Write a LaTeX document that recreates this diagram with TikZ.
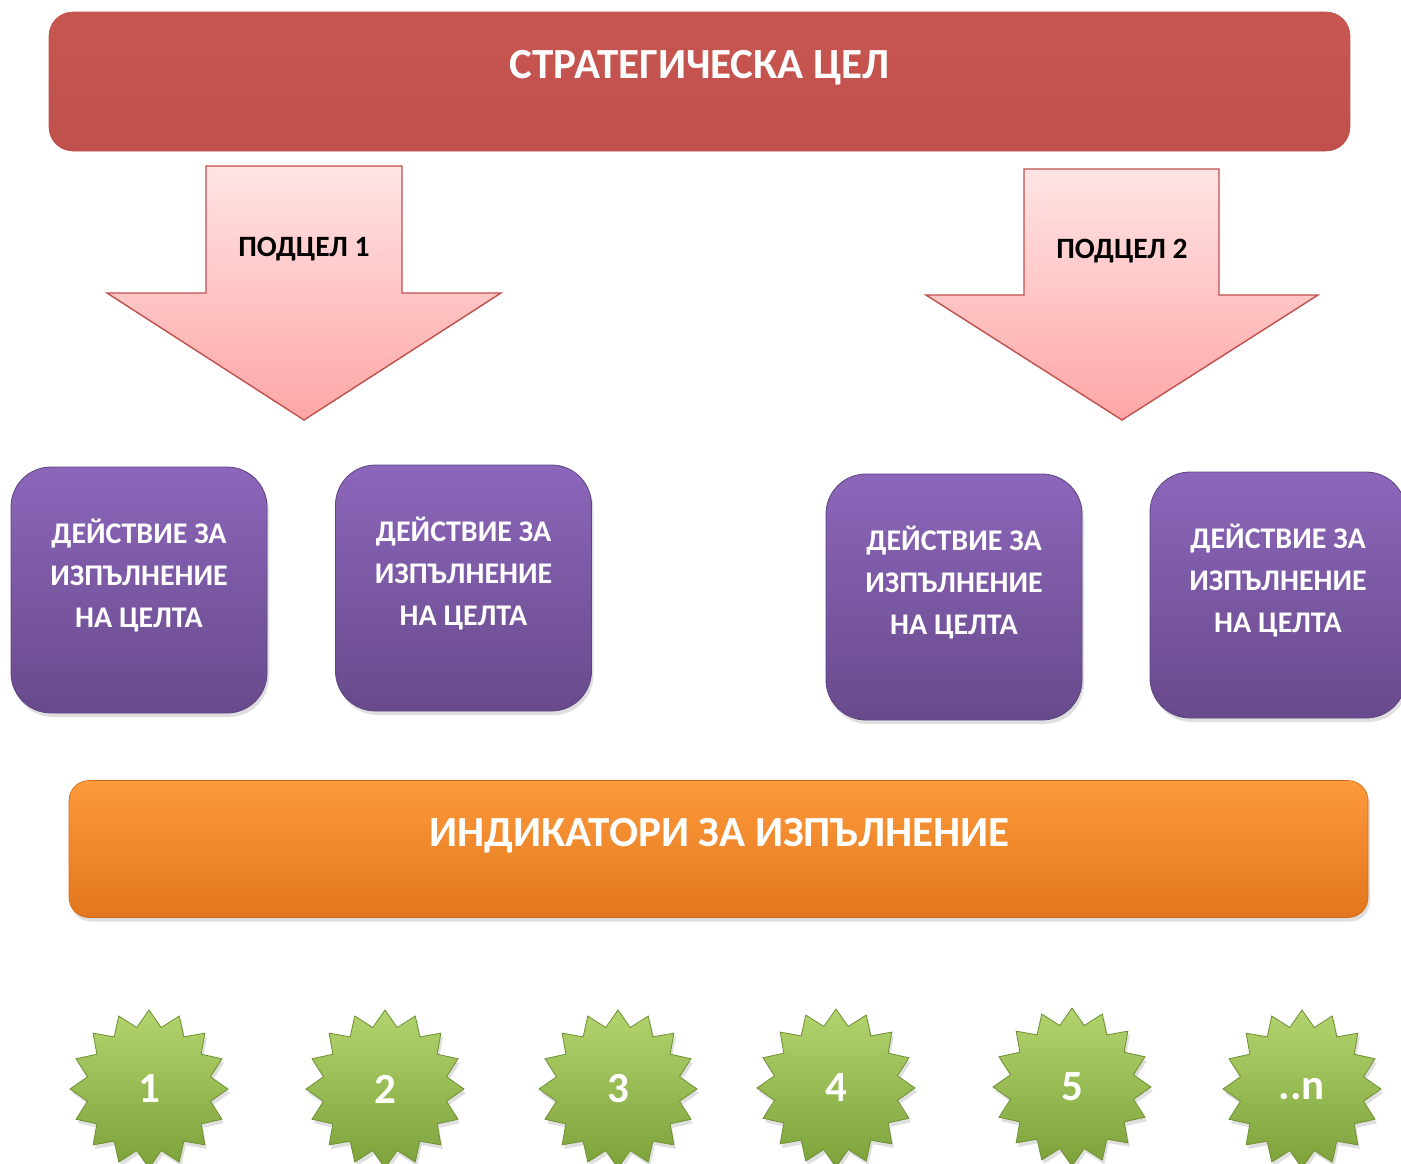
\documentclass[tikz,border=0pt]{standalone}
\usepackage{fontspec}
\setmainfont{Carlito}
\usetikzlibrary{shapes.geometric,shadows}
\definecolor{redbar}{HTML}{C0504D}
\definecolor{redbarTop}{HTML}{C85650}
\definecolor{arrTop}{HTML}{FFE4E4}
\definecolor{arrBot}{HTML}{FFA6A6}
\definecolor{arrLine}{HTML}{C0504D}
\definecolor{purTop}{HTML}{8C66BA}
\definecolor{purBot}{HTML}{684A8C}
\definecolor{purLine}{HTML}{5C4480}
\definecolor{orTop}{HTML}{FD9A3A}
\definecolor{orBot}{HTML}{E2761E}
\definecolor{orLine}{HTML}{D06A1A}
\definecolor{grTop}{HTML}{B2D46E}
\definecolor{grBot}{HTML}{7DA23A}
\definecolor{grLine}{HTML}{6E8F32}
\tikzset{
  softshadow/.style={drop shadow={opacity=0.25, shadow xshift=2pt, shadow yshift=-4pt}},
  redbox/.style={rectangle, rounded corners=24pt, minimum width=1301pt, minimum height=139pt,
    top color=redbarTop, bottom color=redbar, draw=redbar, line width=0.6pt},
  purbox/.style={rectangle, rounded corners=40pt, minimum width=256pt, minimum height=246pt,
    top color=purTop, bottom color=purBot, draw=purLine, line width=0.8pt, softshadow},
  orbox/.style={rectangle, rounded corners=20pt, minimum width=1299pt, minimum height=137pt,
    top color=orTop, bottom color=orBot, draw=orLine, line width=0.6pt, softshadow},
  downarrow/.style={top color=arrTop, bottom color=arrBot, draw=arrLine, line width=1.4pt, line join=miter},
  startxt/.style={star, star points=16, star point ratio=1.26, minimum size=158pt, inner sep=0pt,
    top color=grTop, bottom color=grBot, draw=grLine, line width=0.8pt, softshadow,
    text=white, font=\bfseries\fontsize{43}{46}\selectfont},
  whitetxt/.style={text=white, font=\bfseries\fontsize{30}{42}\selectfont, align=center},
  titletxt/.style={text=white, font=\bfseries\fontsize{43}{46}\selectfont},
  subtxt/.style={text=black, font=\bfseries\fontsize{29.5}{32}\selectfont},
}
\begin{document}
\begin{tikzpicture}[x=1pt,y=-1pt]
\useasboundingbox (0,0) rectangle (1401,1163);
\clip (0,0) rectangle (1401,1163);
\fill[white] (0,0) rectangle (1401,1163);

% strategic goal
\node[redbox] (goal) at (699.5,81.5) {};
\node[titletxt] (goaltxt) at (699.5,68) {СТРАТЕГИЧЕСКА ЦЕЛ};

% sub-goal arrows
\draw[downarrow] (206,166) -- (402,166) -- (402,293) -- (501,293) -- (304,420) -- (107,293) -- (206,293) -- cycle;
\node[subtxt] (sub1) at (304,249) {ПОДЦЕЛ 1};
\draw[downarrow] (1024,169) -- (1219,169) -- (1219,295) -- (1318,295) -- (1122,420) -- (926,295) -- (1024,295) -- cycle;
\node[subtxt] (sub2) at (1122,251) {ПОДЦЕЛ 2};

% actions
\node[purbox] (b1) at (139,590) {};
\node[whitetxt] (t1) at (139,576) {ДЕЙСТВИЕ ЗА\\ИЗПЪЛНЕНИЕ\\НА ЦЕЛТА};
\node[purbox] (b2) at (463.5,588) {};
\node[whitetxt] (t2) at (463.5,574) {ДЕЙСТВИЕ ЗА\\ИЗПЪЛНЕНИЕ\\НА ЦЕЛТА};
\node[purbox] (b3) at (954,597) {};
\node[whitetxt] (t3) at (954,583) {ДЕЙСТВИЕ ЗА\\ИЗПЪЛНЕНИЕ\\НА ЦЕЛТА};
\node[purbox] (b4) at (1278,595) {};
\node[whitetxt] (t4) at (1278,581) {ДЕЙСТВИЕ ЗА\\ИЗПЪЛНЕНИЕ\\НА ЦЕЛТА};

% indicators
\node[orbox] (ind) at (718.5,849) {};
\node[titletxt] (indtxt) at (719.5,836) {ИНДИКАТОРИ ЗА ИЗПЪЛНЕНИЕ};

% stars
\node[startxt] (s1) at (149,1089) {1};
\node[startxt] (s2) at (385,1089) {2};
\node[startxt] (s3) at (618,1089) {3};
\node[startxt] (s4) at (836,1088) {4};
\node[startxt] (s5) at (1072,1087) {5};
\node[startxt] (s6) at (1302,1089) {..n};
\end{tikzpicture}
\end{document}
